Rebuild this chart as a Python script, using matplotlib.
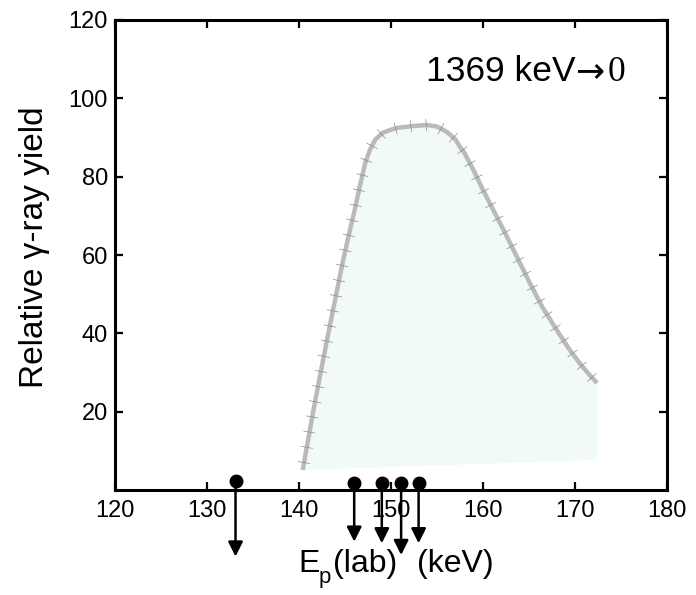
import matplotlib.pyplot as plt
import matplotlib.patheffects as pe

plt.rcParams['font.family'] = ['Liberation Sans', 'DejaVu Sans']

# upper edge of the yield band (E_p in keV, relative yield)
band_x = [140.4, 141.5, 142.6, 143.7, 144.8, 145.5, 146.1, 146.7, 147.2, 147.7,
          148.3, 149.1, 150.0, 150.8, 152.3, 153.9, 155.0, 156.1, 157.0, 157.5,
          158.0, 159.0, 160.0, 162.6, 165.1, 166.5, 168.0, 169.3, 170.5, 171.5, 172.4]
band_top = [5.1, 19.5, 33.0, 46.0, 58.7, 66.0, 72.0, 78.5, 83.5, 86.8,
            89.5, 91.2, 92.0, 92.5, 92.9, 93.2, 92.8, 91.4, 89.5, 87.6,
            86.0, 81.5, 76.6, 64.7, 52.8, 46.5, 40.9, 36.2, 32.4, 29.6, 27.3]
# lower edge of the band (end points)
low_x = [172.4, 140.4]
low_y = [7.7, 5.1]

# upper limits drawn as points with downward arrows
lim_x = [133.1, 146.0, 149.0, 151.1, 153.0]
lim_y = [2.4, 1.7, 1.7, 1.7, 1.9]
lim_tip = [-17.0, -13.2, -13.6, -16.6, -13.6]

fig = plt.figure(figsize=(6.96, 5.95), dpi=100)
ax = fig.add_axes([115 / 696, 1 - 490 / 595, 552 / 696, 470 / 595])

ax.fill(band_x + low_x, band_top + low_y, color='#f2f9f9', lw=0, zorder=1)
ax.plot(band_x, band_top, color='#bababa', lw=3.2, zorder=2,
        solid_capstyle='butt',
        path_effects=[pe.Normal(),
                      pe.TickedStroke(spacing=11, angle=90, length=0.4, linewidth=0.5, foreground='#8a8a8a'),
                      pe.TickedStroke(spacing=11, angle=-90, length=0.4, linewidth=0.5, foreground='#8a8a8a')])

for x, y, t in zip(lim_x, lim_y, lim_tip):
    ax.annotate('', xy=(x, t), xytext=(x, y),
                arrowprops=dict(arrowstyle='-|>', color='black', lw=1.8,
                                mutation_scale=22, shrinkA=0, shrinkB=0),
                annotation_clip=False, zorder=4)
ax.plot(lim_x, lim_y, 'o', color='black', ms=9, clip_on=False, zorder=5)

ax.set_xlim(120, 180)
ax.set_ylim(0, 120)
ax.set_xticks([120, 130, 140, 150, 160, 170, 180])
ax.set_yticks([20, 40, 60, 80, 100, 120])
for s in ax.spines.values():
    s.set_linewidth(2.2)
ax.tick_params(direction='in', length=6, width=1.6, labelsize=17,
               top=True, right=True)
ax.tick_params(axis='x', pad=7)
ax.tick_params(axis='y', pad=5)

ax.set_ylabel('Relative γ-ray yield', fontsize=24)
ax.yaxis.set_label_coords(-0.118, 0.516)

fig.text(298 / 696, 1 - 572 / 595, 'E', fontsize=23, va='baseline')
fig.text(319 / 696, 1 - 583 / 595, 'p', fontsize=16, va='baseline')
fig.text(333 / 696, 1 - 572 / 595, '(lab)', fontsize=23, va='baseline')
fig.text(417 / 696, 1 - 572 / 595, '(keV)', fontsize=23, va='baseline')

ax.text(153.8, 104.5, '1369 keV', fontsize=25.5, va='baseline', ha='left')
ax.text(170.0, 104.5, '→', fontsize=25, va='baseline', ha='left',
        family='DejaVu Sans')
ax.text(173.6, 104.5, '0', fontsize=25.5, va='baseline', ha='left',
        family='Liberation Serif')

fig.savefig('out.png', dpi=100)
